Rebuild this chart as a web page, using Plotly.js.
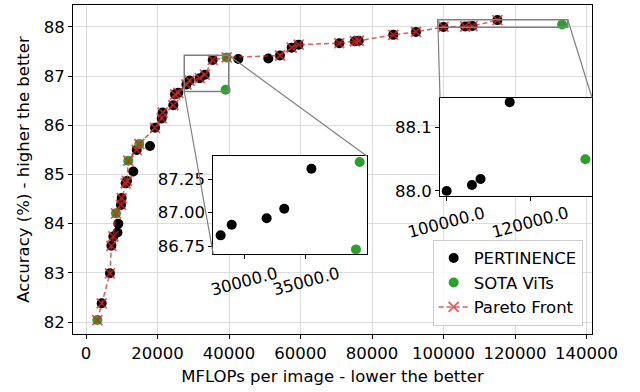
<!DOCTYPE html>
<html><head><meta charset="utf-8">
<script src="https://cdn.plot.ly/plotly-3.0.1.min.js"></script>
<style>html,body{margin:0;padding:0;background:#fff}#chart{width:640px;height:392px}</style>
</head><body><div id="chart"></div>
<script>
// PERTINENCE models (MFLOPs, accuracy %)
const pertX = [4390, 6700, 7100, 7640, 8800, 9040, 9790, 9980, 11100, 11470, 13230, 14180, 17900, 19300, 21170, 21450, 24420, 24890, 25820, 28087, 28980, 31815, 33240, 35440, 42600, 51000, 54260, 57530, 59480, 70850, 75200, 76300, 85950, 92300, 100000, 106050, 108100, 115080];
const pertY = [82.38, 82.99, 83.55, 83.74, 83.82, 84.00, 84.38, 84.52, 84.82, 84.87, 85.06, 85.50, 85.58, 85.95, 86.14, 86.26, 86.41, 86.63, 86.66, 86.83, 86.91, 86.958, 87.03, 87.33, 87.35, 87.36, 87.42, 87.58, 87.64, 87.67, 87.71, 87.72, 87.84, 87.90, 88.00, 88.0095, 88.019, 88.14];
// SOTA ViTs
const sotaX = [3170, 8390, 11830, 14910, 39050, 39350, 133170];
const sotaY = [82.04, 84.21, 85.28, 85.62, 86.725, 87.38, 88.05];
// Pareto front
const paretoX = [3170, 4390, 6700, 7100, 7640, 8390, 9790, 9980, 11100, 11470, 11830, 14180, 14910, 19300, 21170, 21450, 24420, 24890, 25820, 28087, 28980, 31815, 33240, 35440, 39350, 54260, 57530, 59480, 70850, 75200, 76300, 85950, 92300, 100000, 106050, 108100, 115080];
const paretoY = [82.04, 82.38, 82.99, 83.55, 83.74, 84.21, 84.38, 84.52, 84.82, 84.87, 85.28, 85.50, 85.62, 85.95, 86.14, 86.26, 86.41, 86.63, 86.66, 86.83, 86.91, 86.958, 87.03, 87.33, 87.38, 87.42, 87.58, 87.64, 87.67, 87.71, 87.72, 87.84, 87.90, 88.00, 88.0095, 88.019, 88.14];
// tick labels
const mainXTicks = [0, 20000, 40000, 60000, 80000, 100000, 120000, 140000];
const mainYTicks = [82, 83, 84, 85, 86, 87, 88];
const inset1XTicks = [30000, 35000];
const inset1YTicks = [86.75, 87.00, 87.25];
const inset2XTicks = [100000, 120000];
const inset2YTicks = [88.0, 88.1];

const FONT = 'DejaVu Sans';
const FS = 16.5;
const BLACK = '#000000', GREEN = '#2ca02c', RED = 'rgba(214,39,40,0.75)';

const mainXR = [-3636, 141540], mainYR = [81.756, 88.447];
const in1XR = [27490, 39920], in1YR = [86.688, 87.425];
const in2XR = [98400, 134760], in2YR = [87.9926, 88.147];
const in1Dom = {x: [0.2703, 0.5659], y: [0.2422, 0.541]};
const in2Dom = {x: [0.7071, 1.0], y: [0.4204, 0.7182]};

function px(x){ return (x - mainXR[0])/(mainXR[1]-mainXR[0]); }
function py(y){ return (y - mainYR[0])/(mainYR[1]-mainYR[0]); }

const traces = [
  {x: pertX, y: pertY, type: 'scatter', mode: 'markers', name: 'PERTINENCE',
   marker: {color: BLACK, size: 10}, xaxis: 'x', yaxis: 'y'},
  {x: sotaX, y: sotaY, type: 'scatter', mode: 'markers', name: 'SOTA ViTs',
   marker: {color: GREEN, size: 10}, xaxis: 'x', yaxis: 'y'},
  {x: paretoX, y: paretoY, type: 'scatter', mode: 'lines+markers', name: 'Pareto Front',
   line: {color: RED, width: 1.5, dash: '5px,3px'},
   marker: {symbol: 'x-thin', size: 10, color: RED, line: {color: RED, width: 1.8}},
   xaxis: 'x', yaxis: 'y'},
  {x: pertX, y: pertY, type: 'scatter', mode: 'markers', showlegend: false,
   marker: {color: BLACK, size: 10}, xaxis: 'x2', yaxis: 'y2'},
  {x: sotaX, y: sotaY, type: 'scatter', mode: 'markers', showlegend: false,
   marker: {color: GREEN, size: 10}, xaxis: 'x2', yaxis: 'y2'},
  {x: pertX, y: pertY, type: 'scatter', mode: 'markers', showlegend: false,
   marker: {color: BLACK, size: 10}, xaxis: 'x3', yaxis: 'y3'},
  {x: sotaX, y: sotaY, type: 'scatter', mode: 'markers', showlegend: false,
   marker: {color: GREEN, size: 10}, xaxis: 'x3', yaxis: 'y3'}
];

const baseAxis = {
  showline: true, linecolor: '#000', linewidth: 1, mirror: true,
  ticks: 'outside', ticklen: 4, tickwidth: 1, tickcolor: '#000',
  tickfont: {family: FONT, size: FS, color: '#000'}, zeroline: false
};

const shapes = [];
const GRAY = '#808080';
// zoom boxes
shapes.push({type: 'rect', xref: 'x', yref: 'y', x0: in1XR[0], x1: in1XR[1], y0: in1YR[0], y1: in1YR[1],
  line: {color: GRAY, width: 1.5}, layer: 'above'});
shapes.push({type: 'rect', xref: 'x', yref: 'y', x0: in2XR[0], x1: in2XR[1], y0: in2YR[0], y1: in2YR[1],
  line: {color: GRAY, width: 1.5}, layer: 'above'});
// connectors inset 1: box top-right -> inset top-right, box bottom-left -> inset bottom-left
shapes.push({type: 'line', xref: 'paper', yref: 'paper', x0: px(in1XR[1]), y0: py(in1YR[1]), x1: in1Dom.x[1], y1: in1Dom.y[1],
  line: {color: GRAY, width: 1.2}, layer: 'above'});
shapes.push({type: 'line', xref: 'paper', yref: 'paper', x0: px(in1XR[0]), y0: py(in1YR[0]), x1: in1Dom.x[0], y1: in1Dom.y[0],
  line: {color: GRAY, width: 1.2}, layer: 'above'});
// connectors inset 2: top-left -> top-left, top-right -> top-right
shapes.push({type: 'line', xref: 'paper', yref: 'paper', x0: px(in2XR[0]), y0: py(in2YR[1]), x1: in2Dom.x[0], y1: in2Dom.y[1],
  line: {color: GRAY, width: 1.2}, layer: 'above'});
shapes.push({type: 'line', xref: 'paper', yref: 'paper', x0: px(in2XR[1]), y0: py(in2YR[1]), x1: in2Dom.x[1], y1: in2Dom.y[1],
  line: {color: GRAY, width: 1.2}, layer: 'above'});

const annotations = [];
inset1XTicks.forEach(v => annotations.push({xref: 'x2', yref: 'paper', x: v, y: in1Dom.y[0], yshift: -27,
  text: v.toFixed(1), showarrow: false, textangle: -15, xanchor: 'center', yanchor: 'middle',
  font: {family: FONT, size: FS, color: '#000'}}));
inset2XTicks.forEach(v => annotations.push({xref: 'x3', yref: 'paper', x: v, y: in2Dom.y[0], yshift: -27,
  text: v.toFixed(1), showarrow: false, textangle: -15, xanchor: 'center', yanchor: 'middle',
  font: {family: FONT, size: FS, color: '#000'}}));

const layout = {
  width: 640, height: 392,
  margin: {l: 73, r: 48, t: 5, b: 58},
  paper_bgcolor: '#fff', plot_bgcolor: '#fff',
  font: {family: FONT, size: FS, color: '#000'},
  showlegend: true,
  legend: {x: 0.982, y: 0.025, xanchor: 'right', yanchor: 'bottom',
    bgcolor: 'rgba(255,255,255,0.85)', bordercolor: '#cccccc', borderwidth: 1,
    font: {family: FONT, size: FS, color: '#000'}},
  xaxis: Object.assign({}, baseAxis, {range: mainXR, tickvals: mainXTicks, tickformat: 'd', showgrid: true, gridcolor: '#dcdcdc', gridwidth: 1,
    title: {text: 'MFLOPs per image - lower the better', font: {family: FONT, size: FS}, standoff: 8}}),
  yaxis: Object.assign({}, baseAxis, {range: mainYR, tickvals: mainYTicks, tickformat: 'd', showgrid: true, gridcolor: '#dcdcdc', gridwidth: 1,
    title: {text: 'Accuracy (%) - higher the better', font: {family: FONT, size: FS}, standoff: 9}}),
  xaxis2: Object.assign({}, baseAxis, {domain: in1Dom.x, anchor: 'y2', range: in1XR, tickvals: inset1XTicks, showticklabels: false, showgrid: false}),
  yaxis2: Object.assign({}, baseAxis, {domain: in1Dom.y, anchor: 'x2', range: in1YR, tickvals: inset1YTicks, tickformat: '.2f', showgrid: false}),
  xaxis3: Object.assign({}, baseAxis, {domain: in2Dom.x, anchor: 'y3', range: in2XR, tickvals: inset2XTicks, showticklabels: false, showgrid: false}),
  yaxis3: Object.assign({}, baseAxis, {domain: in2Dom.y, anchor: 'x3', range: in2YR, tickvals: inset2YTicks, tickformat: '.1f', showgrid: false}),
  shapes: shapes,
  annotations: annotations
};

Plotly.newPlot('chart', traces, layout, {staticPlot: true, displayModeBar: false});
</script>
</body></html>
